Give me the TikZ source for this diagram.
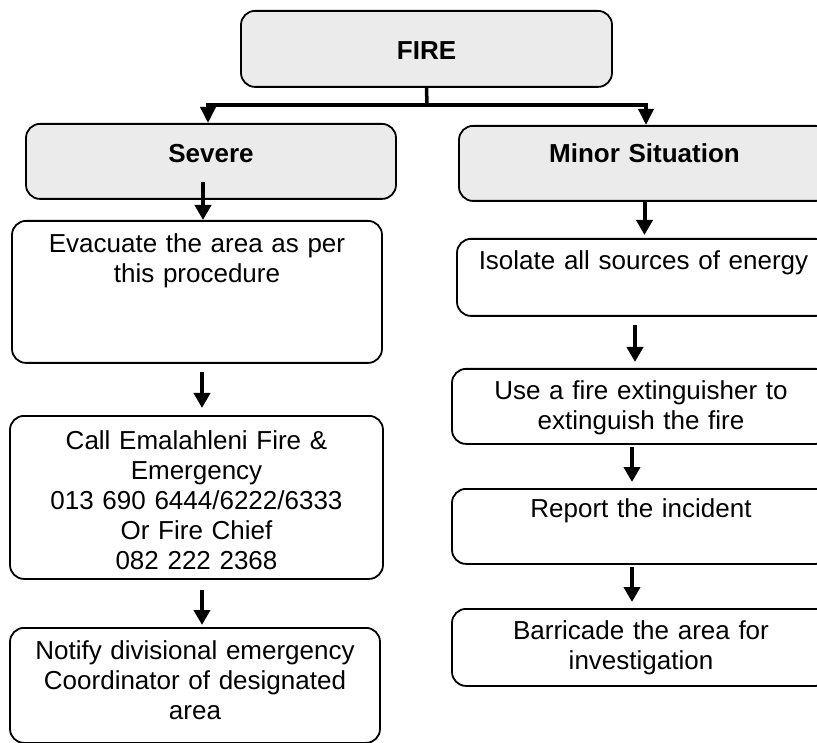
\documentclass[tikz,border=0pt]{standalone}
\usepackage{fontspec}
\setmainfont{Liberation Sans}
\usepackage{tikz}
\usetikzlibrary{arrows.meta}

\tikzset{
  stage/.style={draw, line width=1.8pt, rounded corners=14pt, inner sep=0pt, align=center,
    anchor=north, font=\fontsize{26}{30}\selectfont},
  head/.style={stage, fill=black!8, font=\bfseries\fontsize{26}{30}\selectfont},
  flow/.style={line width=4pt, -{Triangle[length=15pt,width=16pt]}},
  branch/.style={line width=3.5pt, -{Triangle[length=16pt,width=15pt]}}
}

\begin{document}
\begin{tikzpicture}[x=1pt,y=-1pt]
        \useasboundingbox (0,0) rectangle (817,743);
        \clip (0,0) rectangle (817,743);
        \node[head, text width=371pt, text height=49pt, text depth=27pt] (fire) at (426.5,10) {FIRE};
        \node[head, text width=370pt, text height=39pt, text depth=36pt] (severe) at (211,123) {Severe};
        \node[head, text width=371pt, text height=37pt, text depth=38pt] (minor) at (644.5,125) {Minor Situation};

        \node[stage, text width=370pt, text height=32pt, text depth=110pt] (evac) at (197,220) {Evacuate the area as per\\this procedure};
        \node[stage, text width=373pt, text height=34pt, text depth=129pt] (call) at (196.5,415) {Call Emalahleni Fire \&\\Emergency\\013 690 6444/6222/6333\\Or Fire Chief\\082 222 2368};
        \node[stage, text width=370pt, text height=32pt, text depth=83pt] (notify) at (195,627) {Notify divisional emergency\\Coordinator of designated\\area};

        \node[stage, text width=373pt, text height=31pt, text depth=46pt] (isolate) at (643.5,238) {Isolate all sources of energy};
        \node[stage, text width=378pt, text height=31pt, text depth=44pt] (extinguish) at (641,368) {Use a fire extinguisher to\\extinguish the fire};
        \node[stage, text width=378pt, text height=29pt, text depth=46pt] (report) at (641,488) {Report the incident};
        \node[stage, text width=378pt, text height=31pt, text depth=46pt] (barricade) at (641,608) {Barricade the area for\\investigation};

        \coordinate (split) at (427,105);
        \draw[line width=3.5pt] (fire.south) -- (split);
        \draw[branch] (split) -| ([xshift=-3pt]severe.north);
        \draw[branch] (split) -| ([xshift=1.5pt]minor.north);

        \draw[flow] ([xshift=-8pt,yshift=18pt]severe.south) -- ([xshift=6pt]evac.north);
        \draw[flow] ([xshift=5pt,yshift=-8pt]evac.south) -- ([xshift=5.5pt,yshift=7pt]call.north);
        \draw[flow] ([xshift=5.5pt,yshift=-10pt]call.south) -- ([xshift=7pt,yshift=2pt]notify.north);

        \draw[flow] (minor.south) -- ([xshift=1pt,yshift=3pt]isolate.north);
        \draw[flow] ([xshift=-8.5pt,yshift=-8pt]isolate.south) -- ([xshift=-6pt,yshift=6pt]extinguish.north);
        \draw[flow] ([xshift=-9pt,yshift=-2pt]extinguish.south) -- ([xshift=-9pt,yshift=6pt]report.north);
        \draw[flow] ([xshift=-9pt,yshift=-2pt]report.south) -- ([xshift=-9pt,yshift=6pt]barricade.north);
\end{tikzpicture}
\end{document}
